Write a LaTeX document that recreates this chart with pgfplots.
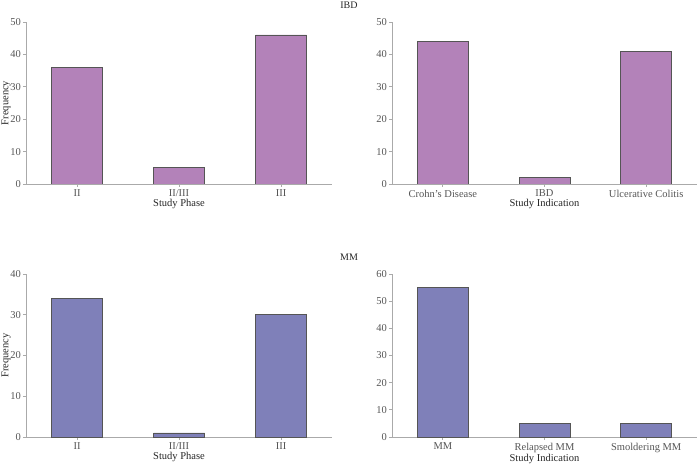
\documentclass[border=0pt]{standalone}
\usepackage{pgfplots}
\pgfplotsset{compat=1.18}
\usepackage{fontspec}
\setmainfont{Liberation Serif}
\definecolor{ibdbar}{HTML}{B382B9}
\definecolor{mmbar}{HTML}{7F80B9}
\definecolor{edgec}{HTML}{555555}
\definecolor{axc}{HTML}{AAAAAA}
\definecolor{tickc}{HTML}{555555}
\pgfplotsset{
  panel/.style={
    scale only axis, width=305pt, height=162pt,
    ybar, bar width=0.5,
    xmin=-0.5, xmax=2.5, ymin=0,
    xtick={0,1,2},
    axis x line*=bottom, axis y line*=left,
    axis line style={axc, line width=0.8pt},
    tick style={axc, line width=0.8pt},
    tick align=outside, major tick length=3pt,
    ticklabel style={font=\fontsize{10.5}{12}\selectfont, text=tickc},
    label style={font=\fontsize{10.5}{12}\selectfont, text=black!85},
    /pgf/number format/assume math mode=true,
    xticklabel style={yshift=0.5pt},
    yticklabel style={xshift=1.5pt},
    xlabel style={yshift=5pt},
    ylabel style={yshift=-7pt},
    anchor=south west,
  }
}
\begin{document}
\begin{tikzpicture}[x=1pt,y=1pt]
\useasboundingbox (0,0) rectangle (698,463);
% top-left
\begin{axis}[panel, at={(26pt,279pt)}, width=306pt, ymax=50, ytick={0,10,...,50},
  xticklabels={II,II/III,III}, xlabel={Study Phase}, ylabel={Frequency}]
\addplot[fill=ibdbar, draw=edgec, line width=0.6pt] coordinates {(0,36) (1,5) (2,46)};
\end{axis}
% top-right
\begin{axis}[panel, at={(392pt,279pt)}, ymax=50, ytick={0,10,...,50},
  xticklabels={Crohn's Disease,IBD,Ulcerative Colitis}, xlabel={Study Indication}]
\addplot[fill=ibdbar, draw=edgec, line width=0.6pt] coordinates {(0,44) (1,2) (2,41)};
\end{axis}
% bottom-left
\begin{axis}[panel, at={(26pt,26pt)}, width=306pt, height=163pt, ymax=40, ytick={0,10,...,40},
  xticklabels={II,II/III,III}, xlabel={Study Phase}, ylabel={Frequency}]
\addplot[fill=mmbar, draw=edgec, line width=0.6pt] coordinates {(0,34) (1,1) (2,30)};
\end{axis}
% bottom-right
\begin{axis}[panel, at={(392pt,26pt)}, height=163pt, ymax=60, ytick={0,10,...,60},
  xticklabels={MM,Relapsed MM,Smoldering MM}, xlabel={Study Indication}]
\addplot[fill=mmbar, draw=edgec, line width=0.6pt] coordinates {(0,55) (1,5) (2,5)};
\end{axis}
\node[font=\fontsize{10}{12}\selectfont, text=black!85] at (349,458) {IBD};
\node[font=\fontsize{10}{12}\selectfont, text=black!85] at (349,206) {MM};
\end{tikzpicture}
\end{document}
